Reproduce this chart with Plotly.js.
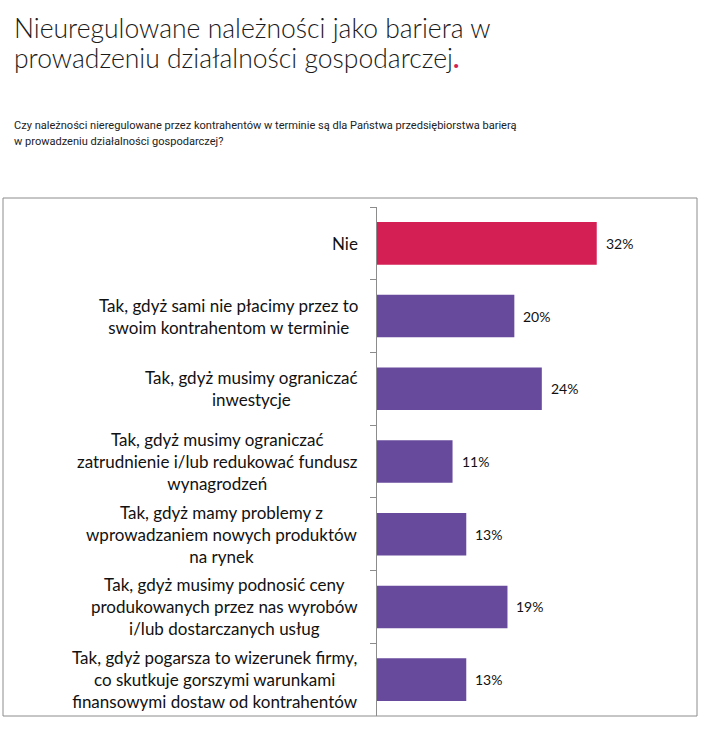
<!DOCTYPE html>
<html>
<head>
<meta charset="utf-8">
<script src="https://cdn.plot.ly/plotly-3.0.1.min.js"></script>
<style>html,body{margin:0;padding:0;background:#fff;}#chart{width:704px;height:735px;}</style>
</head>
<body>
<div id="chart"></div>
<script>
const titleLines = ["Nieuregulowane należności jako bariera w", "prowadzeniu działalności gospodarczej"];
const subtitleLines = ["Czy należności nieregulowane przez kontrahentów w terminie są dla Państwa przedsiębiorstwa barierą", "w prowadzeniu działalności gospodarczej?"];
const categories = [
  "Nie",
  "Tak, gdyż sami nie płacimy przez to<br>swoim kontrahentom w terminie",
  "Tak, gdyż musimy ograniczać<br>inwestycje",
  "Tak, gdyż musimy ograniczać<br>zatrudnienie i/lub redukować fundusz<br>wynagrodzeń",
  "Tak, gdyż mamy problemy z<br>wprowadzaniem nowych produktów<br>na rynek",
  "Tak, gdyż musimy podnosić ceny<br>produkowanych przez nas wyrobów<br>i/lub dostarczanych usług",
  "Tak, gdyż pogarsza to wizerunek firmy,<br>co skutkuje gorszymi warunkami<br>finansowymi dostaw od kontrahentów"
];
const values = [32, 20, 24, 11, 13, 19, 13];
const valueLabels = ["32%", "20%", "24%", "11%", "13%", "19%", "13%"];
const RED = "#D41F55", PURPLE = "#684A9C";
const barColors = [RED, PURPLE, PURPLE, PURPLE, PURPLE, PURPLE, PURPLE];

const LABEL_FONT = {family: "Lato, 'Open Sans', sans-serif", size: 17, color: "#111"};
const SUB_FONT = {family: "Roboto, sans-serif", size: 11.05, color: "#222"};
const TITLE_FONT = {family: "Lato, sans-serif", size: 26.5, color: "#1a1a1a", weight: 300};

const annotations = [];
categories.forEach((c, i) => {
  annotations.push({xref: "paper", yref: "y", x: 0, y: c, xanchor: "right", yanchor: "middle",
    xshift: -17, align: "center", showarrow: false, text: c, font: LABEL_FONT});
  annotations.push({xref: "x", yref: "y", x: values[i], y: c, xanchor: "left", yanchor: "middle",
    xshift: 7, showarrow: false, text: valueLabels[i], font: {family: "Lato, sans-serif", size: 14, color: "#111"}});
});
// titles
const pY = p => (716 - p) / 509;
const pX = p => (p - 377) / 320;
annotations.push({xref: "paper", yref: "paper", x: pX(12), y: pY(28), xanchor: "left", yanchor: "middle", showarrow: false,
  text: titleLines[0], font: TITLE_FONT});
annotations.push({xref: "paper", yref: "paper", x: pX(12), y: pY(58), xanchor: "left", yanchor: "middle", showarrow: false,
  text: titleLines[1] + '<span style="color:#D41F55;font-weight:bold">.</span>', font: TITLE_FONT});
annotations.push({xref: "paper", yref: "paper", x: pX(12), y: pY(126), xanchor: "left", yanchor: "middle", showarrow: false,
  text: subtitleLines[0], font: SUB_FONT});
annotations.push({xref: "paper", yref: "paper", x: pX(12), y: pY(141), xanchor: "left", yanchor: "middle", showarrow: false,
  text: subtitleLines[1], font: SUB_FONT});

const trace = {
  type: "bar", orientation: "h", x: values, y: categories,
  marker: {color: barColors}, hoverinfo: "none", cliponaxis: false
};

const layout = {
  width: 704, height: 735,
  margin: {l: 377, r: 7, t: 207, b: 19},
  paper_bgcolor: "#fff", plot_bgcolor: "#fff",
  showlegend: false, bargap: 0.415,
  xaxis: {range: [0, 46.6], showgrid: false, zeroline: false, showticklabels: false, ticks: "", showline: false},
  yaxis: {autorange: "reversed", type: "category", showticklabels: false, ticks: "outside", ticklen: 6, tickcolor: "#8c8c8c",
    tickson: "boundaries", showline: true, linecolor: "#8c8c8c", linewidth: 1, showgrid: false, zeroline: false},
  shapes: [{type: "rect", xref: "paper", yref: "paper", x0: pX(3), x1: 1, y0: 0, y1: pY(198),
    line: {color: "#8c8c8c", width: 1}, fillcolor: "rgba(0,0,0,0)", layer: "below"}],
  annotations: annotations
};
Plotly.newPlot("chart", [trace], layout, {staticPlot: true, displayModeBar: false});
</script>
</body>
</html>
